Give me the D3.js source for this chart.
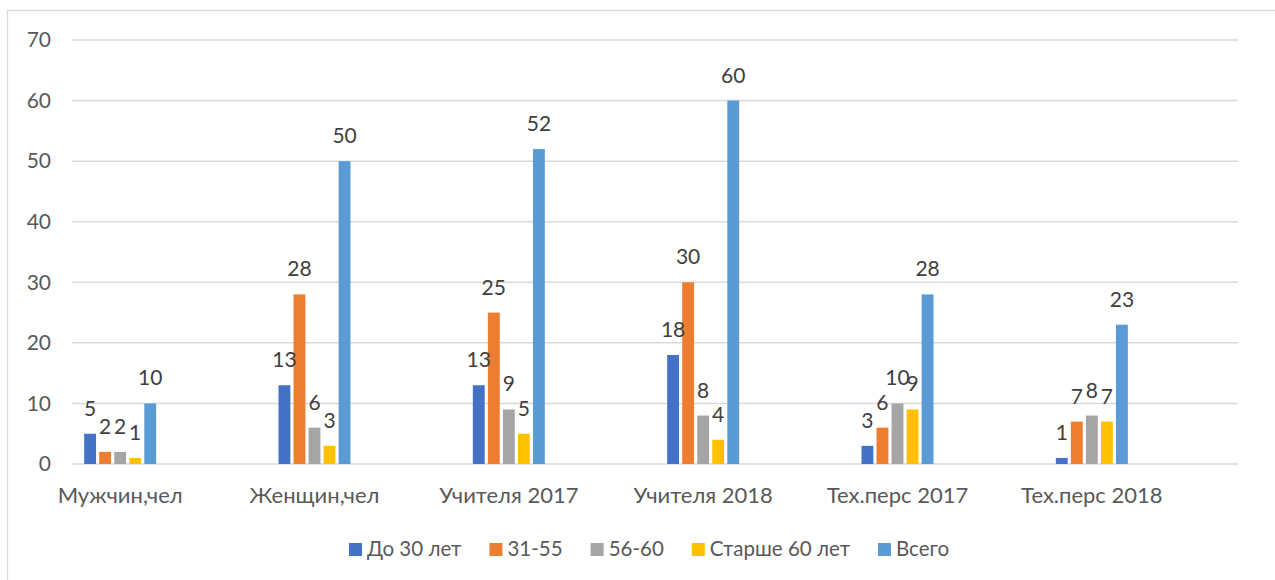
<!DOCTYPE html>
<html>
<head>
<meta charset="utf-8">
<script src="https://cdn.jsdelivr.net/npm/d3@7"></script>
<style>
  html, body { margin: 0; padding: 0; background: #fff; }
  svg { display: block; font-family: Lato, "Open Sans", "Liberation Sans", sans-serif; }
</style>
</head>
<body>
<svg id="chart" width="1275" height="580"></svg>
<script>
// Staff composition by age group
const categories = ["Мужчин,чел", "Женщин,чел", "Учителя 2017", "Учителя 2018", "Тех.перс 2017", "Тех.перс 2018"];
const seriesNames = ["До 30 лет", "31-55", "56-60", "Старше 60 лет", "Всего"];
const under30   = [5, 13, 13, 18, 3, 1];
const age31to55 = [2, 28, 25, 30, 6, 7];
const age56to60 = [2, 6, 9, 8, 10, 8];
const over60    = [1, 3, 5, 4, 9, 7];
const total     = [10, 50, 52, 60, 28, 23];
const yTicks = [0, 10, 20, 30, 40, 50, 60, 70];
const colors = ["#4472C4", "#ED7D31", "#A5A5A5", "#FFC000", "#5B9BD5"];

const seriesValues = [under30, age31to55, age56to60, over60, total];

const svg = d3.select("#chart");

// outer frame
svg.append("rect")
  .attr("x", 7.5).attr("y", 10.5)
  .attr("width", 1400).attr("height", 700)
  .attr("fill", "none").attr("stroke", "#d9d9d9").attr("stroke-width", 1.3);

const y = d3.scaleLinear().domain([0, 70]).range([464, 40]);
const x0 = d3.scaleBand().domain(categories).range([23, 1189]);
const x1 = d3.scaleBand().domain(seriesNames).range([-36, 36]).paddingInner(0.21);

const gridLeft = 72, gridRight = 1238;

// gridlines and y labels
const yAxis = svg.append("g");
yAxis.selectAll("line").data(yTicks).join("line")
  .attr("x1", gridLeft).attr("x2", gridRight)
  .attr("y1", d => y(d)).attr("y2", d => y(d))
  .attr("stroke", "#d9d9d9").attr("stroke-width", 1.5);
yAxis.selectAll("text").data(yTicks).join("text")
  .attr("x", 51).attr("y", d => y(d))
  .attr("dy", "0.35em")
  .attr("text-anchor", "end")
  .attr("font-size", 21)
  .attr("fill", "#595959")
  .text(d => d);

// category labels
svg.append("g").selectAll("text").data(categories).join("text")
  .attr("x", d => x0(d) + x0.bandwidth() / 2)
  .attr("y", 503)
  .attr("text-anchor", "middle")
  .attr("font-size", 22)
  .attr("fill", "#595959")
  .text(d => d);

// bars
const rows = [];
seriesNames.forEach((s, si) => {
  categories.forEach((c, ci) => {
    rows.push({ series: s, si, cat: c, value: seriesValues[si][ci] });
  });
});

const barG = svg.append("g");
barG.selectAll("rect").data(rows).join("rect")
  .attr("x", d => x0(d.cat) + x0.bandwidth() / 2 + x1(d.series))
  .attr("y", d => y(d.value))
  .attr("width", x1.bandwidth())
  .attr("height", d => y(0) - y(d.value))
  .attr("fill", d => colors[d.si]);

// value labels
svg.append("g").selectAll("text").data(rows).join("text")
  .attr("x", d => x0(d.cat) + x0.bandwidth() / 2 + x1(d.series) + x1.bandwidth() / 2)
  .attr("y", d => y(d.value) - 18)
  .attr("text-anchor", "middle")
  .attr("font-size", 21)
  .attr("fill", "#404040")
  .text(d => d.value);

// legend
const legend = svg.append("g");
let lx = 349;
seriesNames.forEach((s, i) => {
  const item = legend.append("g");
  item.append("rect")
    .attr("x", lx).attr("y", 543)
    .attr("width", 13).attr("height", 13)
    .attr("fill", colors[i]);
  const t = item.append("text")
    .attr("x", lx + 18).attr("y", 556)
    .attr("font-size", 20.5)
    .attr("fill", "#595959")
    .text(s);
  lx += 18 + t.node().getComputedTextLength() + 28;
});
</script>
</body>
</html>
